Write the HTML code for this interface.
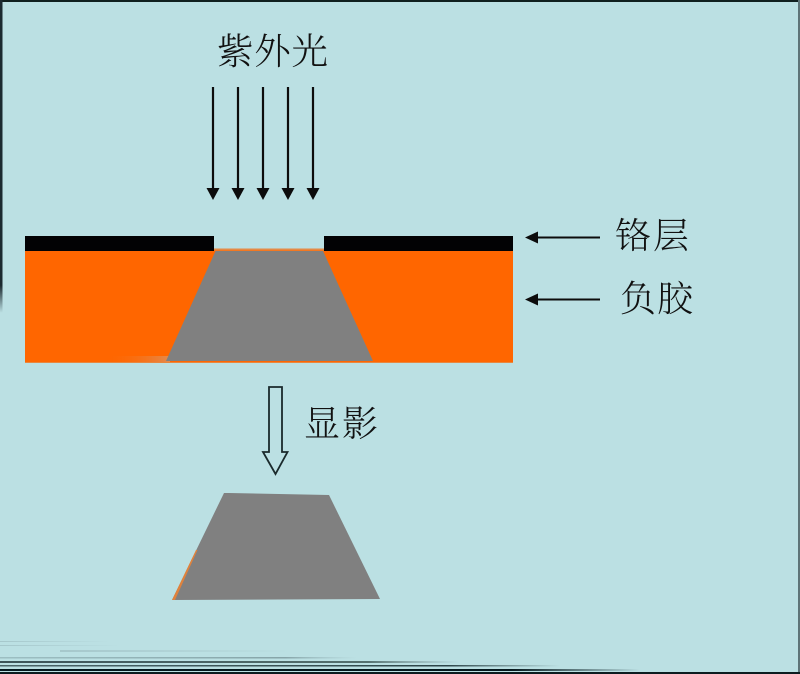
<!DOCTYPE html>
<html lang="zh">
<head>
<meta charset="utf-8">
<style>
html,body{margin:0;padding:0;background:#bbe0e3}
svg{display:block}
text{font-family:"Liberation Serif","Noto Serif CJK SC",serif;fill:#111;font-weight:300}
</style>
</head>
<body>
<svg width="800" height="674" viewBox="0 0 800 674" xmlns="http://www.w3.org/2000/svg">
<defs>
<linearGradient id="left" x1="0" y1="0" x2="0" y2="1">
<stop offset="0" stop-color="#1b2a30"/><stop offset="0.62" stop-color="#1b2a30"/><stop offset="0.68" stop-color="#bbe0e3"/><stop offset="1" stop-color="#bbe0e3"/>
</linearGradient>
<linearGradient id="b1" x1="0" x2="1" y1="0" y2="0"><stop offset="0" stop-color="#05191e"/><stop offset="0.8" stop-color="#05191e"/><stop offset="1" stop-color="#05191e" stop-opacity="0"/></linearGradient>
<linearGradient id="b2" x1="0" x2="1" y1="0" y2="0"><stop offset="0" stop-color="#4a6468"/><stop offset="0.8" stop-color="#2c4448"/><stop offset="1" stop-color="#3c5458" stop-opacity="0"/></linearGradient>
<linearGradient id="b3" x1="0" x2="1" y1="0" y2="0"><stop offset="0" stop-color="#3c5458"/><stop offset="0.8" stop-color="#54706f"/><stop offset="1" stop-color="#7c9a9e" stop-opacity="0"/></linearGradient>
<linearGradient id="b4" x1="0" x2="1" y1="0" y2="0"><stop offset="0" stop-color="#8fb0b4" stop-opacity=".7"/><stop offset="0.8" stop-color="#86a4a8"/><stop offset="1" stop-color="#9dbdc1" stop-opacity="0"/></linearGradient>
<linearGradient id="b5" x1="0" x2="1" y1="0" y2="0"><stop offset="0" stop-color="#9dbdc1" stop-opacity=".7"/><stop offset="1" stop-color="#9dbdc1" stop-opacity="0"/></linearGradient>
<linearGradient id="glow" x1="0" x2="1" y1="0" y2="0"><stop offset="0" stop-color="#ff6600" stop-opacity="0"/><stop offset="0.55" stop-color="#ff6600" stop-opacity="0"/><stop offset="1" stop-color="#d79a70"/></linearGradient>
</defs>

<rect width="800" height="674" fill="#bbe0e3"/>

<!-- frame -->
<rect x="0" y="0" width="800" height="2" fill="#10201f"/>
<rect x="0" y="0" width="2.500" height="460" fill="url(#left)"/>
<rect x="798" y="0" width="2" height="674" fill="#5e7478"/>
<rect x="0" y="672" width="800" height="2" fill="#0c1c20"/>

<!-- bottom streaks -->
<rect x="0" y="669" width="640" height="2" fill="url(#b1)"/>
<rect x="0" y="665" width="560" height="1.500" fill="url(#b2)"/>
<rect x="0" y="661" width="460" height="2" fill="url(#b3)"/>
<rect x="0" y="657" width="357" height="1.500" fill="url(#b4)"/>
<rect x="60" y="650" width="230" height="2" fill="url(#b5)"/>
<rect x="0" y="645" width="120" height="1" fill="url(#b5)"/>
<rect x="0" y="641" width="110" height="1" fill="url(#b5)"/>

<!-- resist -->
<rect x="25" y="250" width="488" height="113" fill="#ff6600"/>
<rect x="25" y="356" width="145" height="6" fill="url(#glow)" opacity=".7"/>
<rect x="25" y="362" width="488" height="1" fill="#e8873f"/>
<rect x="214" y="248.500" width="111" height="2" fill="#e58a45"/>
<polygon points="215.500,251 323,251 373,361 166,361" fill="#808080"/>

<!-- chrome -->
<rect x="25" y="236" width="189" height="15" fill="#020204"/>
<rect x="324" y="236" width="189" height="15" fill="#020204"/>

<!-- UV arrows -->
<g stroke="#0c0c0c" stroke-width="2.200">
<line x1="213" y1="87" x2="213" y2="190"/>
<line x1="238" y1="87" x2="238" y2="190"/>
<line x1="263" y1="87" x2="263" y2="190"/>
<line x1="288" y1="87" x2="288" y2="190"/>
<line x1="313" y1="87" x2="313" y2="190"/>
</g>
<g fill="#0c0c0c">
<polygon points="206.500,188 219.500,188 213,200"/>
<polygon points="231.500,188 244.500,188 238,200"/>
<polygon points="256.500,188 269.500,188 263,200"/>
<polygon points="281.500,188 294.500,188 288,200"/>
<polygon points="306.500,188 319.500,188 313,200"/>
</g>

<!-- label arrows -->
<g stroke="#0c0c0c" stroke-width="2">
<line x1="534" y1="237.500" x2="600" y2="237.500"/>
<line x1="534" y1="299.500" x2="600" y2="299.500"/>
</g>
<g fill="#0c0c0c">
<polygon points="525,237.500 538,231.500 538,243.500"/>
<polygon points="525,299.500 538,293.500 538,305.500"/>
</g>

<!-- develop arrow -->
<polygon points="269,387 282,387 282,452 287.500,452 275.500,474 263,452 269,452" fill="none" stroke="#1a2a2c" stroke-width="1.800"/>

<!-- developed block -->
<polygon points="172,600 224,493 229,493 329,495 380,599" fill="#808080"/>
<polygon points="172,600 196,550 197.500,550 175,600" fill="#e0823c"/>

<!-- labels -->
<text x="217" y="64" font-size="36.500" textLength="111" lengthAdjust="spacing">紫外光</text>
<text x="615" y="248" font-size="36" textLength="74" lengthAdjust="spacing">铬层</text>
<text x="620" y="311" font-size="36" textLength="73" lengthAdjust="spacing">负胶</text>
<text x="304" y="436" font-size="36" textLength="74" lengthAdjust="spacing">显影</text>
</svg>
</body>
</html>
